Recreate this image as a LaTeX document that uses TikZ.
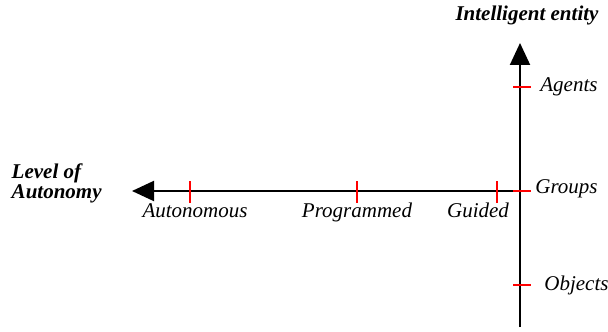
\documentclass[tikz,border=0pt]{standalone}
\usepackage{fontspec}
\setmainfont{Liberation Serif}
\usetikzlibrary{positioning,arrows.meta}

\begin{document}
\begin{tikzpicture}[x=0.5pt,y=-0.5pt,node distance=0pt,
    axis/.style={line width=1pt,-{Triangle[length=11pt,width=10pt]}},
    tickmark/.style={red,line width=1pt},
    lbl/.style={font=\itshape\fontsize{10.5}{11}\selectfont,inner sep=0pt},
    ttl/.style={font=\bfseries\itshape\fontsize{10.5}{10}\selectfont,inner sep=0pt,align=left}]
    \useasboundingbox (0,0) rectangle (608,331);

    \coordinate (o) at (520,191);
    \coordinate (xend) at (132,191);
    \coordinate (yend) at (520,43);
    \coordinate (ybot) at (520,327);
    \draw[axis] (o) -- (xend);
    \draw[axis] (ybot) -- (yend);

    % ticks
    \coordinate (tauto) at (190,191);
    \coordinate (tprog) at (357,191);
    \coordinate (tguid) at (497,191);
    \coordinate (tagent) at (520,87);
    \coordinate (tgroup) at (520,191);
    \coordinate (tobj) at (520,285);
    \foreach \t in {tauto,tprog,tguid}
        \draw[tickmark] ([yshift=5pt]\t) -- ([yshift=-6pt]\t);
    \foreach \t in {tagent,tgroup,tobj}
        \draw[tickmark] ([xshift=-3.5pt]\t) -- ([xshift=5.5pt]\t);

    \node [lbl, below=6pt of tauto, xshift=2.5pt] (auto) {Autonomous};
    \node [lbl, below=6pt of tprog] (prog) {Programmed};
    \node [lbl, below=6pt of tguid, xshift=-9.5pt] (guid) {Guided};
    \node [lbl, right=10pt of tagent] (agent) {Agents};
    \node [lbl, right=7.5pt of tgroup, yshift=1pt] (group) {Groups};
    \node [lbl, right=12pt of tobj] (obj) {Objects};

    \node [ttl, above=9pt of yend, xshift=3.5pt] (entity) {Intelligent entity};
    \node [ttl, left=15pt of xend, yshift=4pt] (level) {Level of\\Autonomy};
\end{tikzpicture}
\end{document}
